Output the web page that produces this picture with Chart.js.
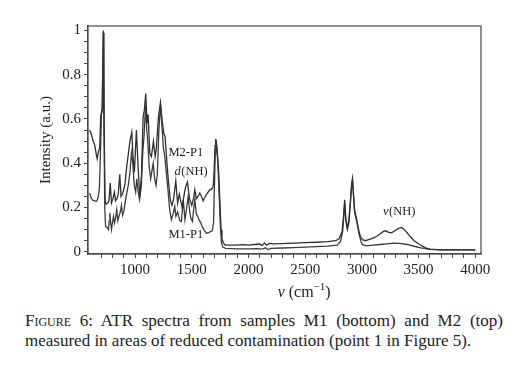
<!DOCTYPE html>
<html><head><meta charset="utf-8">
<script src="https://cdn.jsdelivr.net/npm/chart.js@4"></script>
<style>
html,body{margin:0;padding:0;background:#fff;}
#wrap{position:absolute;left:0;top:0;width:523px;height:300px;}
#cap{position:absolute;left:25px;top:311px;width:478px;font-family:"Liberation Serif","DejaVu Serif",serif;font-size:17px;line-height:20px;color:#222;}
#cap .l1{text-align:justify;text-align-last:justify;white-space:nowrap;}
#cap .l2{text-align:left;white-space:nowrap;}
.sc{font-variant:small-caps;}
</style></head><body>
<div id="wrap"><canvas id="c" width="523" height="300"></canvas></div>
<div id="cap"><div class="l1"><span class="sc">Figure</span> 6: ATR spectra from samples M1 (bottom) and M2 (top)</div><div class="l2">measured in areas of reduced contamination (point 1 in Figure 5).</div></div>
<script>
// ---- data ----
const m2Wavenumber = [600,615,630,645,658,666,676,688,697,708,714,720,727,735,745,758,770,781,792,805,818,828,840,852,865,876,888,900,912,925,940,955,971,982,994,1012,1027,1041,1056,1071,1082,1094,1106,1115,1130,1144,1162,1177,1188,1206,1224,1238,1253,1265,1280,1294,1312,1325,1340,1359,1375,1390,1415,1430,1444,1462,1480,1500,1515,1527,1540,1555,1571,1586,1600,1615,1630,1645,1660,1680,1690,1698,1705,1711,1718,1728,1740,1750,1758,1766,1778,1795,1830,1900,1950,2000,2050,2100,2120,2140,2160,2180,2220,2300,2400,2500,2600,2700,2770,2800,2825,2838,2848,2858,2872,2885,2900,2910,2917,2925,2935,2948,2960,2975,2990,3005,3030,3060,3100,3130,3160,3190,3212,3235,3262,3290,3320,3350,3375,3400,3424,3460,3512,3560,3600,3700,3800,3900,4000];
const m2Intensity = [0.55,0.53,0.50,0.48,0.44,0.42,0.45,0.47,0.61,0.64,0.80,1.00,0.60,0.23,0.215,0.22,0.23,0.31,0.22,0.24,0.27,0.23,0.24,0.26,0.35,0.25,0.26,0.28,0.31,0.38,0.44,0.50,0.54,0.43,0.36,0.55,0.38,0.25,0.34,0.61,0.64,0.715,0.58,0.62,0.445,0.43,0.50,0.43,0.47,0.61,0.675,0.595,0.535,0.52,0.41,0.32,0.23,0.21,0.24,0.32,0.22,0.26,0.20,0.25,0.29,0.315,0.24,0.21,0.24,0.28,0.24,0.25,0.265,0.25,0.23,0.245,0.26,0.27,0.28,0.285,0.30,0.38,0.48,0.51,0.49,0.43,0.33,0.20,0.10,0.06,0.04,0.03,0.03,0.03,0.032,0.03,0.033,0.035,0.028,0.04,0.03,0.038,0.036,0.037,0.039,0.041,0.043,0.046,0.05,0.06,0.09,0.16,0.235,0.15,0.11,0.14,0.24,0.31,0.332,0.27,0.19,0.16,0.13,0.09,0.065,0.055,0.05,0.055,0.062,0.07,0.08,0.092,0.095,0.088,0.086,0.095,0.105,0.11,0.10,0.085,0.07,0.05,0.032,0.018,0.012,0.009,0.009,0.009,0.009];

const m1Wavenumber = [600,615,630,645,660,672,685,695,703,710,715,720,726,733,740,752,765,772,778,785,792,800,810,818,828,838,848,858,870,880,890,900,912,925,940,955,968,980,993,1005,1015,1027,1040,1055,1068,1080,1093,1103,1112,1125,1138,1150,1160,1172,1185,1196,1210,1224,1238,1250,1262,1275,1290,1305,1320,1335,1350,1360,1375,1395,1409,1425,1440,1455,1468,1482,1493,1506,1518,1527,1540,1552,1565,1580,1595,1606,1630,1645,1660,1680,1692,1700,1707,1712,1720,1730,1742,1752,1762,1775,1800,1900,2000,2080,2120,2150,2170,2200,2300,2400,2500,2600,2700,2780,2810,2830,2840,2848,2858,2872,2885,2900,2910,2917,2925,2935,2948,2960,2975,2990,3005,3040,3100,3160,3220,3277,3330,3400,3460,3520,3600,3700,4000];
const m1Intensity = [0.265,0.24,0.232,0.23,0.228,0.24,0.28,0.45,0.62,0.64,0.80,0.99,0.55,0.20,0.115,0.11,0.10,0.14,0.175,0.13,0.10,0.13,0.16,0.13,0.15,0.19,0.14,0.16,0.18,0.21,0.165,0.18,0.22,0.26,0.30,0.36,0.445,0.40,0.30,0.27,0.33,0.27,0.235,0.30,0.45,0.53,0.66,0.55,0.50,0.38,0.33,0.37,0.40,0.33,0.30,0.35,0.55,0.665,0.56,0.47,0.43,0.36,0.28,0.19,0.145,0.17,0.205,0.16,0.18,0.14,0.137,0.235,0.145,0.20,0.25,0.18,0.15,0.137,0.20,0.234,0.17,0.16,0.144,0.13,0.11,0.10,0.084,0.085,0.09,0.095,0.13,0.30,0.45,0.505,0.47,0.40,0.25,0.12,0.04,0.02,0.015,0.013,0.013,0.014,0.012,0.018,0.01,0.015,0.017,0.019,0.021,0.023,0.026,0.03,0.045,0.09,0.16,0.22,0.14,0.10,0.13,0.23,0.30,0.32,0.26,0.18,0.15,0.12,0.08,0.05,0.032,0.027,0.03,0.033,0.036,0.039,0.038,0.033,0.025,0.018,0.011,0.009,0.009];

const xTickLabels = [1000,1500,2000,2500,3000,3500,4000];
const yTickLabels = [0,0.2,0.4,0.6,0.8,1];
const annoItalic = ['', 'd', '', '\u03BD'];
const annoText   = ['M2-P1', '(NH)', 'M1-P1', '(NH)'];
const annoX      = [1447, 1492, 1447, 3327];
const annoY      = [0.446, 0.36, 0.077, 0.18];

// ---- chart ----
const SERIF = '"Liberation Serif","DejaVu Serif",serif';
const toPts = (xs, ys) => xs.map((x, i) => ({x: x, y: ys[i]}));

const framePlugin = {
  id: 'frame',
  afterDraw(chart) {
    const {ctx, chartArea: a, scales} = chart;
    ctx.save();
    ctx.strokeStyle = '#4a4a4a';
    ctx.lineWidth = 1.2;
    ctx.strokeRect(a.left, a.top, a.right - a.left, a.bottom - a.top);
    // annotations at data coordinates
    ctx.fillStyle = '#222';
    ctx.textBaseline = 'middle';
    for (let i = 0; i < annoText.length; i++) {
      const px = scales.x.getPixelForValue(annoX[i]);
      const py = scales.y.getPixelForValue(annoY[i]);
      ctx.font = 'italic 12.5px ' + SERIF;
      const wi = ctx.measureText(annoItalic[i]).width;
      ctx.font = '12.5px ' + SERIF;
      const wr = ctx.measureText(annoText[i]).width;
      let x0 = px - (wi + wr) / 2;
      ctx.textAlign = 'left';
      if (annoItalic[i]) {
        ctx.font = 'italic 12.5px ' + SERIF;
        ctx.fillText(annoItalic[i], x0, py);
        x0 += wi + 0.5;
      }
      ctx.font = '12.5px ' + SERIF;
      ctx.fillText(annoText[i], x0, py);
    }
    // x axis title: ν (cm⁻¹)
    const cx = a.left + (a.right - a.left) * 0.55;
    const cy = 293;
    const parts = [
      {t: '\u03BD', f: 'italic 16px ' + SERIF, dy: 0},
      {t: ' (cm', f: '16px ' + SERIF, dy: 0},
      {t: '\u22121', f: '11px ' + SERIF, dy: -6},
      {t: ')', f: '16px ' + SERIF, dy: 0}
    ];
    let total = 0;
    parts.forEach(p => { ctx.font = p.f; p.w = ctx.measureText(p.t).width; total += p.w; });
    let x = cx - total / 2;
    ctx.textAlign = 'left';
    parts.forEach(p => { ctx.font = p.f; ctx.fillText(p.t, x, cy + p.dy); x += p.w; });
    ctx.restore();
  }
};

new Chart(document.getElementById('c'), {
  type: 'line',
  data: {
    datasets: [
      {label: 'M2-P1', data: toPts(m2Wavenumber, m2Intensity), borderColor: '#303030', borderWidth: 1.3, pointRadius: 0, tension: 0, fill: false},
      {label: 'M1-P1', data: toPts(m1Wavenumber, m1Intensity), borderColor: '#3c3c3c', borderWidth: 1.3, pointRadius: 0, tension: 0, fill: false}
    ]
  },
  options: {
    responsive: false,
    animation: false,
    devicePixelRatio: 1,
    layout: {padding: {left: 37, right: 42, top: 26, bottom: 0}},
    plugins: {legend: {display: false}, tooltip: {enabled: false}},
    scales: {
      x: {
        type: 'linear', min: 585, max: 4050,
        afterBuildTicks: s => { const t = []; for (let v = 700; v <= 4000; v += 100) t.push({value: v}); s.ticks = t; },
        afterFit: s => { s.height = 46; },
        ticks: {
          autoSkip: false, maxRotation: 0, padding: 3, color: '#222',
          font: {family: SERIF, size: 15},
          callback: v => xTickLabels.includes(v) ? String(v) : ''
        },
        grid: {drawOnChartArea: false, drawTicks: true, tickLength: 4, tickColor: '#444'},
        border: {display: true, color: '#4a4a4a', width: 1.2}
      },
      y: {
        min: -0.01, max: 1.02,
        afterBuildTicks: s => { const t = []; for (let k = 0; k <= 20; k++) t.push({value: k * 0.05}); s.ticks = t; },
        afterFit: s => { s.width = 51; },
        ticks: {
          autoSkip: false, padding: 3, color: '#222',
          font: {family: SERIF, size: 15},
          callback: v => { const m = yTickLabels.find(l => Math.abs(l - v) < 1e-6); return m === undefined ? '' : String(m); }
        },
        title: {display: true, text: 'Intensity (a.u.)', color: '#222', font: {family: SERIF, size: 15}, padding: 0},
        grid: {drawOnChartArea: false, drawTicks: true, tickLength: 4, tickColor: '#444'},
        border: {display: true, color: '#4a4a4a', width: 1.2}
      }
    }
  },
  plugins: [framePlugin]
});
</script>
</body></html>
